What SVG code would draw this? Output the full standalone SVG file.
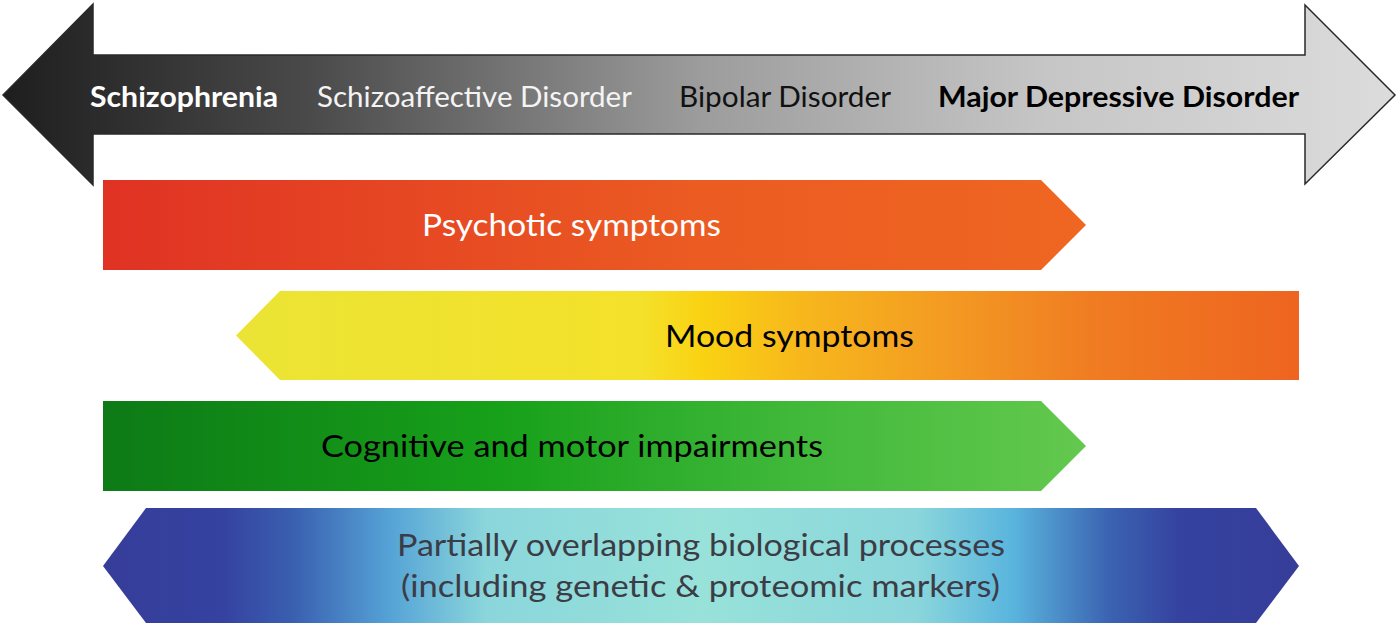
<svg xmlns="http://www.w3.org/2000/svg" width="1400" height="628" viewBox="0 0 1400 628">
<defs>
<linearGradient id="gTop" gradientUnits="userSpaceOnUse" x1="3" y1="0" x2="1395" y2="0">
<stop offset="0" stop-color="#1e1e1e"/>
<stop offset="0.22" stop-color="#4a4a4a"/>
<stop offset="0.5" stop-color="#9c9c9c"/>
<stop offset="0.75" stop-color="#c6c6c6"/>
<stop offset="1" stop-color="#dcdcdc"/>
</linearGradient>
<linearGradient id="gPsy" gradientUnits="userSpaceOnUse" x1="103" y1="0" x2="1086" y2="0">
<stop offset="0" stop-color="#e03224"/>
<stop offset="0.6" stop-color="#eb5b22"/>
<stop offset="1" stop-color="#ef6621"/>
</linearGradient>
<linearGradient id="gMood" gradientUnits="userSpaceOnUse" x1="236" y1="0" x2="1299" y2="0">
<stop offset="0" stop-color="#ebe434"/>
<stop offset="0.38" stop-color="#f4e12b"/>
<stop offset="0.44" stop-color="#fad212"/>
<stop offset="0.53" stop-color="#f7b81c"/>
<stop offset="0.67" stop-color="#f39a22"/>
<stop offset="0.81" stop-color="#f07b22"/>
<stop offset="1" stop-color="#ee6420"/>
</linearGradient>
<linearGradient id="gCog" gradientUnits="userSpaceOnUse" x1="103" y1="0" x2="1086" y2="0">
<stop offset="0" stop-color="#0d7a16"/>
<stop offset="0.4" stop-color="#17a01a"/>
<stop offset="0.7" stop-color="#40b83a"/>
<stop offset="1" stop-color="#63c94e"/>
</linearGradient>
<linearGradient id="gBio" gradientUnits="userSpaceOnUse" x1="103" y1="0" x2="1299" y2="0">
<stop offset="0" stop-color="#363d99"/>
<stop offset="0.1" stop-color="#3542a0"/>
<stop offset="0.16" stop-color="#3a60b0"/>
<stop offset="0.24" stop-color="#55a3d6"/>
<stop offset="0.32" stop-color="#8ad6db"/>
<stop offset="0.5" stop-color="#98e2da"/>
<stop offset="0.68" stop-color="#8ad6db"/>
<stop offset="0.76" stop-color="#5ab5de"/>
<stop offset="0.84" stop-color="#3b64b2"/>
<stop offset="0.9" stop-color="#3542a0"/>
<stop offset="1" stop-color="#363d99"/>
</linearGradient>
</defs>
<style>
text { font-family: Lato, "Open Sans", "Liberation Sans", sans-serif; }
.top { font-size: 29px; }
.big { font-size: 31px; }
.b { font-weight: bold; }
</style>
<rect width="1400" height="628" fill="#ffffff"/>
<g id="spectrum">
<polygon points="3,95 93,4 93,55 1305,55 1305,5 1395,95 1305,184 1305,134 93,134 93,185" fill="url(#gTop)" stroke="#2a2a2a" stroke-width="1.5" stroke-linejoin="miter"/>
<text class="top b" x="90" y="107" fill="#ffffff" textLength="188" lengthAdjust="spacingAndGlyphs">Schizophrenia</text>
<text class="top" x="317" y="107" fill="#f4f4f4" textLength="315" lengthAdjust="spacingAndGlyphs">Schizoaffective Disorder</text>
<text class="top" x="679" y="107" fill="#111111" textLength="212" lengthAdjust="spacingAndGlyphs">Bipolar Disorder</text>
<text class="top b" x="938" y="107" fill="#000000" textLength="361" lengthAdjust="spacingAndGlyphs">Major Depressive Disorder</text>
</g>
<g id="psychotic">
<polygon points="103,180 1041,180 1086,225 1041,270 103,270" fill="url(#gPsy)"/>
<text class="big" x="422" y="236" fill="#ffffff" textLength="299" lengthAdjust="spacingAndGlyphs">Psychotic symptoms</text>
</g>
<g id="mood">
<polygon points="280,291 1299,291 1299,380 280,380 236,335.5" fill="url(#gMood)"/>
<text class="big" x="665" y="347" fill="#000000" textLength="249" lengthAdjust="spacingAndGlyphs">Mood symptoms</text>
</g>
<g id="cognitive">
<polygon points="103,401 1041,401 1086,446 1041,491 103,491" fill="url(#gCog)"/>
<text class="big" x="321" y="457" fill="#000000" textLength="502" lengthAdjust="spacingAndGlyphs">Cognitive and motor impairments</text>
</g>
<g id="biological">
<polygon points="103,566 146,508 1256,508 1299,566 1256,623 146,623" fill="url(#gBio)"/>
<text class="big" x="397" y="556" fill="#3c3c46" textLength="608" lengthAdjust="spacingAndGlyphs">Partially overlapping biological processes</text>
<text class="big" x="401" y="597" fill="#3c3c46" textLength="599" lengthAdjust="spacingAndGlyphs">(including genetic &amp; proteomic markers)</text>
</g>
<g id="connectors"></g>
</svg>
